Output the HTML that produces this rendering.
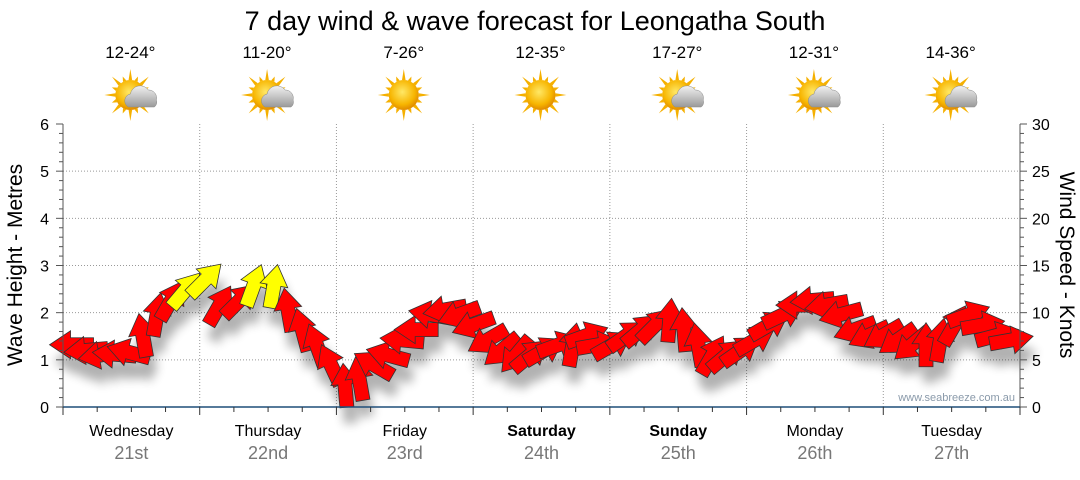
<!DOCTYPE html>
<html><head><meta charset="utf-8"><style>
body{margin:0;background:#fff;width:1080px;height:475px;overflow:hidden;font-family:"Liberation Sans",sans-serif}
</style></head><body>
<svg id="chart" width="1080" height="475" xmlns="http://www.w3.org/2000/svg" font-family="Liberation Sans, sans-serif">
<defs>
<radialGradient id="sunG" cx="0.45" cy="0.4" r="0.6"><stop offset="0" stop-color="#ffe866"/><stop offset="0.7" stop-color="#f7b500"/><stop offset="1" stop-color="#e08a00"/></radialGradient>
<linearGradient id="cloudG" x1="0" y1="0" x2="0" y2="1"><stop offset="0" stop-color="#f2f2f2"/><stop offset="1" stop-color="#9a9a9a"/></linearGradient>
<filter id="sh" x="-50%" y="-50%" width="200%" height="200%"><feGaussianBlur stdDeviation="5"/></filter>
</defs>
<text x="535" y="30" font-size="27" text-anchor="middle" fill="#000">7 day wind &amp; wave forecast for Leongatha South</text>
<g id="grid"></g>
<g id="icons"></g>
<g id="shadows" filter="url(#sh)" opacity="0.3"></g>
<g id="arrows"></g>
<g id="axes"></g>
<text x="1015" y="401" font-size="11" text-anchor="end" fill="#8a9aaa">www.seabreeze.com.au</text>
<text transform="translate(22,265) rotate(-90)" font-size="21" text-anchor="middle">Wave Height - Metres</text>
<text transform="translate(1060,265) rotate(90)" font-size="21" text-anchor="middle">Wind Speed - Knots</text>
</svg>
<script>
const days=["Wednesday","Thursday","Friday","Saturday","Sunday","Monday","Tuesday"];
const dates=["21st","22nd","23rd","24th","25th","26th","27th"];
const temps=["12-24°","11-20°","7-26°","12-35°","17-27°","12-31°","14-36°"];
const icons=["cloudy","cloudy","sun","sun","cloudy","cloudy","cloudy"];
const boldDays=[false,false,false,true,true,false,false];
const waveTicks=[0,1,2,3,4,5,6];
const windTicks=[0,5,10,15,20,25,30];
// wind samples: hours from start, knots, arrow direction (deg, 0=right, 90=up)
const windHours=[1.5,4,6.5,9,11.5,14,16.5,19,21.5,25,27.5,31,33.5,37,39.5,42,44.5,47,49.5,52,54.5,57,59.5,62,64.5,67,69.5,72,74.5,77,79.5,82,84.5,87,89.5,92,94,96.5,99,101.5,104,106.5,109,111.5,114,116.5,119,121.5,124,126.5,129,131.5,134,136.5,139,141.5,144,146.5,149,151.5,154,156.5,159,161.5,164,166.5];
const windSpeed=[6.6,6,5.5,5.6,5.8,7.6,9.8,11.3,12.4,13.5,10.8,11.3,12.9,12.8,10.3,8.2,6.6,4.5,2.3,3,4.5,5.5,7.1,8.2,9.8,10.3,9.8,8.7,7.1,6,5.5,5.5,6,6.6,6.6,7.6,6.6,6.6,7.6,8.2,8.7,9.2,8.2,6.6,5.5,5.5,6,7.1,8.7,9.8,10.8,11.3,10.8,9.8,8.2,7.6,7.6,7.1,6.6,6.6,7.1,8.7,9.8,8.7,7.6,7.1];
const windDir=[180,185,190,175,165,100,80,60,50,45,60,45,70,80,100,105,110,115,95,100,150,165,175,180,170,190,200,200,210,220,230,40,30,20,80,20,10,30,35,40,45,85,95,100,60,40,35,30,30,25,180,185,190,195,200,205,210,215,220,90,80,60,20,10,15,10];
const X0=63,X1=1020,Y0=407,Y1=124,NS="http://www.w3.org/2000/svg";
const dayW=(X1-X0)/7;
const xH=h=>X0+h/168*(X1-X0);
const yW=m=>Y0-m/6*(Y0-Y1);
const yK=k=>Y0-k/30*(Y0-Y1);
function mk(tag,attrs,parent){const e=document.createElementNS(NS,tag);for(const k in attrs)e.setAttribute(k,attrs[k]);parent.appendChild(e);return e;}
const grid=document.getElementById('grid'),axes=document.getElementById('axes'),ic=document.getElementById('icons');
waveTicks.forEach(v=>{if(v>0&&v<6){const l=mk('line',{x1:X0,x2:X1,y1:yW(v),y2:yW(v),stroke:'#999','stroke-dasharray':'1,2'},grid);

}
const t=mk('text',{x:X0-14,y:yW(v)+6,'font-size':16,'text-anchor':'end'},axes);t.textContent=v;

});
windTicks.forEach(v=>{const t=mk('text',{x:X1+12,y:yK(v)+6,'font-size':16},axes);t.textContent=v;

});
for(let i=0;i<=30;i++){const y=Y0-i*(Y0-Y1)/30;const len=i%5==0?7:4;
mk('line',{x1:X0-len,x2:X0,y1:y,y2:y,stroke:'#555'},axes);mk('line',{x1:X1,x2:X1+len,y1:y,y2:y,stroke:'#555'},axes);}
mk('line',{x1:X0,x2:X0,y1:Y1,y2:Y0,stroke:'#555'},axes);mk('line',{x1:X1,x2:X1,y1:Y1,y2:Y0,stroke:'#555'},axes);
mk('line',{x1:X0,x2:X1,y1:Y0,y2:Y0,stroke:'#1f4e79','stroke-width':1.5},axes);
for(let h=0;h<=168;h+=6){mk('line',{x1:xH(h),x2:xH(h),y1:Y0,y2:Y0+(h%24==0?8:5),stroke:'#333'},axes);}
days.forEach((d,i)=>{const cx=X0+dayW*(i+0.5);
if(i>0){const l=mk('line',{x1:X0+dayW*i,x2:X0+dayW*i,y1:Y1,y2:Y0,stroke:'#999','stroke-dasharray':'1,2'},grid);

}
const t=mk('text',{x:cx,y:436,'font-size':16,'text-anchor':'middle','font-weight':boldDays[i]?'bold':'normal'},axes);t.textContent=d;


const t2=mk('text',{x:cx,y:459,'font-size':18,'text-anchor':'middle',fill:'#777'},axes);t2.textContent=dates[i];


const t3=mk('text',{x:cx-1,y:58,'font-size':17,'text-anchor':'middle'},ic);t3.textContent=temps[i];


const g=mk('g',{transform:`translate(${cx-1},95)`},ic);


for(let a=0;a<16;a++){const r=a%2?20:26;const an=a*Math.PI/8;const p1=an-0.12,p2=an+0.12;
mk('polygon',{points:`${15*Math.cos(p1)},${15*Math.sin(p1)} ${r*Math.cos(an)},${r*Math.sin(an)} ${15*Math.cos(p2)},${15*Math.sin(p2)}`,fill:'#f5b000'},g);}
mk('circle',{r:15,fill:'url(#sunG)'},g);
if(icons[i]=='cloudy'){mk('path',{d:'M-6,16 a7,7 0 0 1 2,-13 a10,10 0 0 1 18,-4 a8,8 0 0 1 8,10 a6,6 0 0 1 -2,7 z',fill:'url(#cloudG)',stroke:'#888','stroke-width':0.5,transform:'translate(4,-4)'},g);}
});
const sh=document.getElementById('shadows'),ar=document.getElementById('arrows');
const shape='M-22,-7 L1,-7 L1,-14 L22,0 L1,14 L1,7 L-22,7 Z';
windHours.forEach((h,i)=>{const x=xH(h),y=yK(windSpeed[i]);
const s=mk('path',{d:shape,fill:'#000',transform:`translate(${x+4},${y+16}) rotate(${-windDir[i]})`},sh);


const p=mk('path',{d:shape,fill:windSpeed[i]>=12?'#ffff00':'#ff0000',stroke:'#333','stroke-width':0.8,'stroke-linejoin':'miter',transform:`translate(${x},${y}) rotate(${-windDir[i]})`},ar);


});
</script>
</body></html>
